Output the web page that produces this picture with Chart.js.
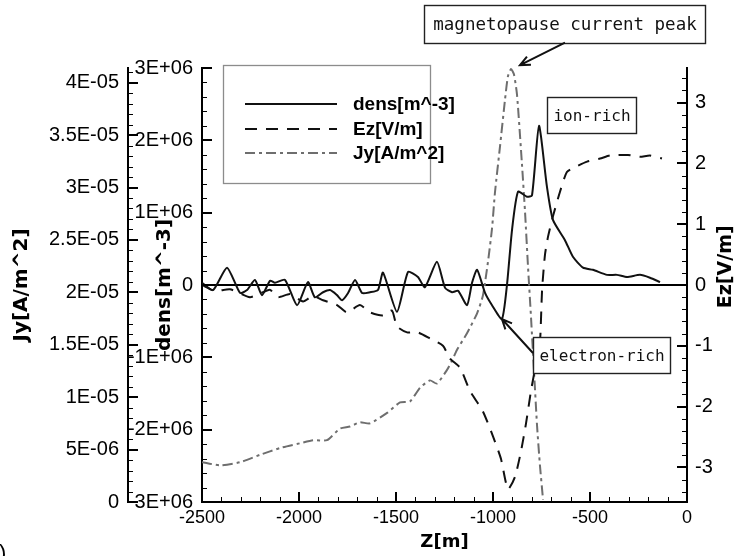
<!DOCTYPE html>
<html>
<head>
<meta charset="utf-8">
<script src="https://cdn.jsdelivr.net/npm/chart.js@4.4.1/dist/chart.umd.min.js"></script>
<style>
  html, body { margin: 0; padding: 0; background: #fff; }
  canvas { display: block; }
</style>
</head>
<body>
<canvas id="c" width="740" height="556"></canvas>
<script>
// Profiles across the boundary layer, Z in metres
const Z_DENS = [-2500,-2443,-2371,-2304,-2268,-2227,-2191,-2149,-2124,-2072,-2010,-1954,-1918,-1876,-1840,-1804,-1778,-1747,-1711,-1675,-1634,-1593,-1567,-1495,-1438,-1387,-1351,-1289,-1247,-1211,-1180,-1134,-1108,-1082,-1041,-1005,-954,-928,-902,-871,-825,-799,-763,-722,-691,-629,-588,-536,-485,-412,-361,-309,-242,-191,-139];
const DENS = [0.03e6,-0.07e6,0.24e6,-0.11e6,-0.07e6,0.07e6,-0.14e6,0.06e6,0.03e6,0.07e6,-0.28e6,0.04e6,-0.17e6,-0.10e6,-0.07e6,-0.14e6,-0.21e6,-0.11e6,0.07e6,-0.11e6,-0.10e6,-0.07e6,0.17e6,-0.37e6,0.18e6,0.11e6,-0.03e6,0.32e6,-0.04e6,-0.10e6,-0.08e6,-0.28e6,0.03e6,0.21e6,-0.11e6,-0.28e6,-0.47e6,0,0.76e6,1.29e6,1.22e6,1.24e6,2.20e6,1.36e6,0.90e6,0.62e6,0.39e6,0.24e6,0.21e6,0.14e6,0.14e6,0.11e6,0.14e6,0.10e6,0.04e6];

const Z_EZ = [-2500,-2433,-2356,-2253,-2186,-2149,-2108,-2046,-1979,-1928,-1876,-1804,-1753,-1686,-1634,-1567,-1521,-1495,-1443,-1387,-1325,-1258,-1222,-1170,-1119,-1052,-1000,-959,-923,-887,-856,-830,-804,-773,-758,-747,-732,-716,-691,-655,-619,-577,-515,-448,-397,-304,-242,-191,-129];
const EZ = [0,-0.10,-0.07,-0.20,-0.12,-0.08,-0.20,-0.15,-0.27,-0.18,-0.25,-0.33,-0.45,-0.33,-0.45,-0.50,-0.42,-0.68,-0.78,-0.78,-0.88,-1.00,-1.21,-1.36,-1.74,-2.08,-2.49,-2.86,-3.36,-3.16,-2.74,-2.28,-1.74,-1.20,-0.96,-0.08,0.50,0.80,1.13,1.53,1.86,1.94,2.03,2.08,2.13,2.14,2.11,2.13,2.08];

const Z_JY = [-2500,-2407,-2304,-2201,-2098,-1995,-1928,-1856,-1789,-1737,-1686,-1634,-1546,-1479,-1428,-1376,-1325,-1289,-1237,-1211,-1186,-1134,-1082,-1052,-1026,-1005,-990,-964,-938,-923,-907,-892,-876,-851,-835,-820,-804,-789,-773,-758,-742];
const JY = [3.8e-6,3.5e-6,3.8e-6,4.5e-6,5.15e-6,5.6e-6,5.9e-6,5.9e-6,7.0e-6,7.2e-6,7.6e-6,7.5e-6,8.5e-6,9.5e-6,9.6e-6,1.09e-5,1.16e-5,1.13e-5,1.26e-5,1.35e-5,1.45e-5,1.61e-5,1.80e-5,1.97e-5,2.29e-5,2.61e-5,2.95e-5,3.39e-5,3.84e-5,4.06e-5,4.13e-5,4.08e-5,3.88e-5,3.23e-5,2.77e-5,2.26e-5,1.76e-5,1.26e-5,7.3e-6,3.5e-6,0.2e-6];

const SERIES_NAMES = ['dens[m^-3]', 'Ez[V/m]', 'Jy[A/m^2]'];

// Axis ticks and their printed labels
const X_TICKS = [-2500, -2000, -1500, -1000, -500, 0];
const X_TICK_LABELS = ['-2500', '-2000', '-1500', '-1000', '-500', '0'];
const JY_TICKS = [0, 5e-6, 1e-5, 1.5e-5, 2e-5, 2.5e-5, 3e-5, 3.5e-5, 4e-5];
const JY_TICK_LABELS = ['0', '5E-06', '1E-05', '1.5E-05', '2E-05', '2.5E-05', '3E-05', '3.5E-05', '4E-05'];
const DENS_TICKS = [-3e6, -2e6, -1e6, 0, 1e6, 2e6, 3e6];
const DENS_TICK_LABELS = ['-3E+06', '-2E+06', '-1E+06', '0', '1E+06', '2E+06', '3E+06'];
const EZ_TICKS = [-3, -2, -1, 0, 1, 2, 3];
const EZ_TICK_LABELS = ['-3', '-2', '-1', '0', '1', '2', '3'];

// Callout boxes (Z, dens coordinates) with optional arrows
const NOTES = [
  { text: 'magnetopause current peak', x0: -1356, x1: 93, y0: 3.873e6, y1: 3.347e6, size: 17.5,
    arrow: { from: [-629, 3.35e6], to: [-861, 3.04e6] } },
  { text: 'ion-rich', x0: -722, x1: -263, y0: 2.6e6, y1: 2.102e6, size: 16 },
  { text: 'electron-rich', x0: -794, x1: -88, y0: -0.719e6, y1: -1.217e6, size: 16,
    arrow: { from: [-794, -0.94e6], to: [-954, -0.47e6] } }
];

const toPoints = (xs, ys) => xs.map((x, i) => ({ x, y: ys[i] }));
const labelFrom = (ticks, labels) => v => labels[ticks.indexOf(v)];
const useTicks = ticks => scale => { scale.ticks = ticks.map(v => ({ value: v })); };

const SANS = '"Liberation Sans", Arial, sans-serif';
const WIDE = '"DejaVu Sans", sans-serif';

function minorValues(majors, parts, min, max) {
  const step = (majors[1] - majors[0]) / parts;
  const out = [];
  const start = Math.ceil((min - majors[0]) / step - 1e-9);
  const end = Math.floor((max - majors[0]) / step + 1e-9);
  for (let k = start; k <= end; k++) if (k % parts !== 0) out.push(majors[0] + k * step);
  return out;
}

// Inward tick marks, zero line, legend, callouts and the right-hand title
const decorations = {
  id: 'decorations',
  beforeDatasetsDraw(chart) {
    const { ctx, chartArea: a, scales: s } = chart;
    const y0 = Math.round(s.dens.getPixelForValue(0));
    ctx.save();
    ctx.strokeStyle = '#000';
    ctx.lineWidth = 2;
    ctx.beginPath();
    ctx.moveTo(a.left, y0);
    ctx.lineTo(a.right, y0);
    ctx.stroke();
    ctx.restore();
  },
  afterDraw(chart) {
    const { ctx, chartArea: a, scales: s } = chart;
    ctx.save();
    ctx.strokeStyle = '#000';

    const marks = (scale, base, dir, vertical, values, len, w) => {
      ctx.lineWidth = w;
      ctx.beginPath();
      values.forEach(v => {
        const p = Math.round(scale.getPixelForValue(v)) + (w % 2 ? 0.5 : 0);
        if (vertical) { ctx.moveTo(base, p); ctx.lineTo(base + dir * len, p); }
        else { ctx.moveTo(p, base); ctx.lineTo(p, base + dir * len); }
      });
      ctx.stroke();
    };
    const axes = [
      { sc: s.jy, base: s.jy.right, dir: 1, v: true, majors: JY_TICKS, parts: 5 },
      { sc: s.dens, base: a.left, dir: 1, v: true, majors: DENS_TICKS, parts: 5 },
      { sc: s.ez, base: a.right, dir: -1, v: true, majors: EZ_TICKS, parts: 5 },
      { sc: s.x, base: a.bottom, dir: -1, v: false, majors: X_TICKS, parts: 5 }
    ];
    axes.forEach(ax => {
      const m = ax.majors.filter(v => v >= ax.sc.min && v <= ax.sc.max);
      marks(ax.sc, ax.base, ax.dir, ax.v, m, 10, 2);
      marks(ax.sc, ax.base, ax.dir, ax.v, minorValues(ax.majors, ax.parts, ax.sc.min, ax.sc.max), 5, 1);
    });

    // legend panel
    const L = a.left + 21, T = a.top - 3, W = 207, H = 118;
    ctx.fillStyle = '#fff';
    ctx.fillRect(L, T, W, H);
    ctx.strokeStyle = '#8c8c8c';
    ctx.lineWidth = 1.3;
    ctx.strokeRect(L + 0.5, T + 0.5, W, H);
    chart.data.datasets.forEach((ds, i) => {
      const y = Math.round(T + 39 + i * 24.5);
      ctx.strokeStyle = ds.borderColor;
      ctx.lineWidth = ds.borderWidth;
      ctx.setLineDash(ds.borderDash || []);
      ctx.beginPath();
      ctx.moveTo(L + 22, y);
      ctx.lineTo(L + 114, y);
      ctx.stroke();
      ctx.setLineDash([]);
      ctx.fillStyle = '#000';
      ctx.font = 'bold 19px ' + SANS;
      ctx.textAlign = 'left';
      ctx.textBaseline = 'middle';
      ctx.fillText(ds.label, L + 130, y + 1);
    });

    // callouts
    const px = v => s.x.getPixelForValue(v);
    const py = v => s.dens.getPixelForValue(v);
    NOTES.forEach(n => {
      const bx = Math.round(px(n.x0)) + 0.5, by = Math.round(py(n.y0)) + 0.5;
      const bw = Math.round(px(n.x1) - px(n.x0)), bh = Math.round(py(n.y1) - py(n.y0));
      ctx.fillStyle = '#fff';
      ctx.fillRect(bx, by, bw, bh);
      ctx.strokeStyle = '#222';
      ctx.lineWidth = 1.4;
      ctx.strokeRect(bx, by, bw, bh);
      ctx.fillStyle = '#111';
      ctx.font = n.size + 'px "DejaVu Sans Mono", monospace';
      ctx.textAlign = 'center';
      ctx.textBaseline = 'middle';
      ctx.fillText(n.text, bx + bw / 2, by + bh / 2 + 1);
      if (n.arrow) {
        const x1 = px(n.arrow.from[0]), y1 = py(n.arrow.from[1]);
        const x2 = px(n.arrow.to[0]), y2 = py(n.arrow.to[1]);
        const ang = Math.atan2(y2 - y1, x2 - x1), hl = 11, ha = 0.42;
        ctx.strokeStyle = '#111';
        ctx.lineWidth = 2;
        ctx.beginPath();
        ctx.moveTo(x1, y1);
        ctx.lineTo(x2, y2);
        ctx.moveTo(x2 - hl * Math.cos(ang - ha), y2 - hl * Math.sin(ang - ha));
        ctx.lineTo(x2, y2);
        ctx.lineTo(x2 - hl * Math.cos(ang + ha), y2 - hl * Math.sin(ang + ha));
        ctx.stroke();
      }
    });

    // right-hand axis title, read bottom to top
    ctx.save();
    ctx.translate(726, s.ez.getPixelForValue(0.3));
    ctx.rotate(-Math.PI / 2);
    ctx.fillStyle = '#000';
    ctx.font = 'bold 19px ' + WIDE;
    ctx.textAlign = 'center';
    ctx.textBaseline = 'middle';
    ctx.fillText('Ez[V/m]', 0, 0);
    ctx.restore();

    // panel tag at the lower-left corner
    ctx.fillStyle = '#000';
    ctx.font = '22px ' + SANS;
    ctx.textAlign = 'left';
    ctx.textBaseline = 'top';
    ctx.fillText(')', -1, 543);

    ctx.restore();
  }
};

const tickFont = { family: SANS, size: 20 };
const noGrid = { display: false, drawTicks: false };
const frame = { display: true, color: '#000', width: 2 };

new Chart(document.getElementById('c'), {
  type: 'line',
  data: {
    datasets: [
      { label: SERIES_NAMES[0], data: toPoints(Z_DENS, DENS), yAxisID: 'dens',
        borderColor: '#111', borderWidth: 2, borderDash: [] },
      { label: SERIES_NAMES[1], data: toPoints(Z_EZ, EZ), yAxisID: 'ez',
        borderColor: '#111', borderWidth: 2, borderDash: [12, 9] },
      { label: SERIES_NAMES[2], data: toPoints(Z_JY, JY), yAxisID: 'jy',
        borderColor: '#6e6e6e', borderWidth: 2, borderDash: [10, 4, 3, 4] }
    ]
  },
  options: {
    responsive: false,
    animation: false,
    devicePixelRatio: 1,
    layout: { padding: { top: 68, left: 0, right: 0, bottom: 0 } },
    elements: { point: { radius: 0 }, line: { tension: 0.2, fill: false } },
    plugins: { legend: { display: false }, tooltip: { enabled: false } },
    scales: {
      x: {
        type: 'linear', position: 'bottom', min: -2500, max: 0,
        afterBuildTicks: useTicks(X_TICKS),
        afterFit: sc => { sc.height = 54; },
        grid: noGrid, border: frame,
        ticks: { autoSkip: false, maxRotation: 0, padding: 5, color: '#000',
                 font: { family: SANS, size: 18 }, callback: labelFrom(X_TICKS, X_TICK_LABELS) },
        title: { display: true, text: 'Z[m]', color: '#000',
                 font: { family: WIDE, size: 18, weight: 'bold' }, padding: { top: 0, bottom: 3 } }
      },
      jy: {
        type: 'linear', position: 'left', weight: 2, min: 0, max: 4.14e-5,
        afterBuildTicks: useTicks(JY_TICKS),
        afterFit: sc => { sc.width = 128; },
        grid: noGrid, border: frame,
        ticks: { autoSkip: false, padding: 9, color: '#000', font: tickFont,
                 callback: labelFrom(JY_TICKS, JY_TICK_LABELS) },
        title: { display: true, text: 'Jy[A/m^2]', color: '#000',
                 font: { family: WIDE, size: 20, weight: 'bold' }, padding: { top: 10, bottom: 0 } }
      },
      dens: {
        type: 'linear', position: 'left', weight: 1, min: -3e6, max: 3e6,
        afterBuildTicks: useTicks(DENS_TICKS),
        afterFit: sc => { sc.width = 74; },
        grid: noGrid, border: frame,
        ticks: { autoSkip: false, padding: 9, color: '#000', font: tickFont,
                 callback: labelFrom(DENS_TICKS, DENS_TICK_LABELS) },
        title: { display: true, text: 'dens[m^-3]', color: '#000',
                 font: { family: WIDE, size: 20, weight: 'bold' }, padding: { top: 25, bottom: 0 } }
      },
      ez: {
        type: 'linear', position: 'right', min: -3.57, max: 3.57,
        afterBuildTicks: useTicks(EZ_TICKS),
        afterFit: sc => { sc.width = 53; },
        grid: noGrid, border: frame,
        ticks: { autoSkip: false, padding: 8, color: '#000', font: tickFont,
                 callback: labelFrom(EZ_TICKS, EZ_TICK_LABELS) }
      }
    }
  },
  plugins: [decorations]
});
</script>
</body>
</html>
